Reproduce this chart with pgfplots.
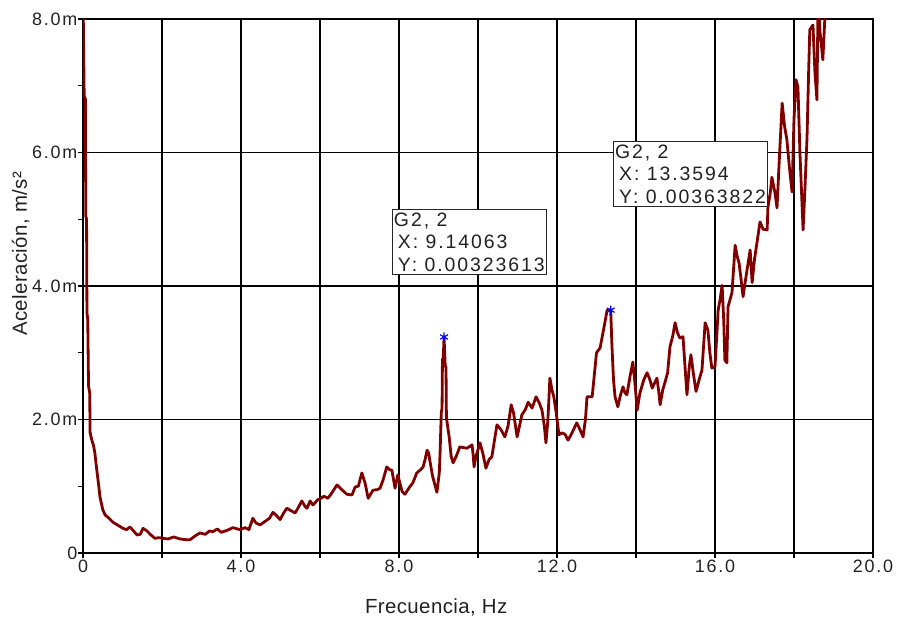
\documentclass[border=0pt]{standalone}
\usepackage{pgfplots}
\pgfplotsset{compat=1.18}
\usepackage{fontspec}
\setmainfont{Liberation Sans}
\newfontfamily\tickff{Liberation Sans}[LetterSpace=10]
\newfontfamily\boxff{Liberation Sans}[LetterSpace=10]
\newfontfamily\labff{Liberation Sans}[LetterSpace=2]
\definecolor{curve}{HTML}{800000}
\definecolor{txt}{HTML}{222222}
\newcommand{\tickfont}{\tickff\fontsize{18}{21}\selectfont}
\newcommand{\labfont}{\labff\fontsize{20.5}{24}\selectfont}
\newcommand{\boxfont}{\boxff\fontsize{19.5}{22.5}\selectfont}
\begin{document}
\begin{tikzpicture}
\begin{axis}[
  scale only axis,
  width=790bp, height=534bp,
  xmin=0, xmax=20, ymin=0, ymax=8,
  xtick={0,4,8,12,16,20},
  xticklabels={0,4.0,8.0,12.0,16.0,20.0},
  minor xtick={2,6,10,14,18},
  ytick={0,2,4,6,8},
  yticklabels={0,2.0m,4.0m,6.0m,8.0m},
  minor ytick={1,3,5,7},
  xmajorgrids, xminorgrids, ymajorgrids,
  grid style={black, line width=1.2bp},
  minor grid style={black, line width=1.2bp},
  axis line style={black, line width=1.2bp},
  tick style={black, line width=1.2bp},
  major tick length=5bp, minor tick length=5bp,
  tick align=outside,
  xtick pos=left, ytick pos=left,
  ticklabel style={font=\tickfont, text=txt},
  yticklabel style={inner sep=0.5bp},
  xticklabel style={inner sep=2bp},
  xlabel={Frecuencia, Hz},
  ylabel={Aceleración, m/s²},
  xlabel style={font=\labfont, text=txt, at={(axis description cs:0.447,-0.101)}, anchor=center},
  ylabel style={font=\labfont, text=txt, at={(axis description cs:-0.079,0.56)}, anchor=center},
  clip=true,
]
\addplot[curve, line width=2.8bp, line join=round] coordinates {
(0.0,8.4)(0.03,6.85)(0.06,6.8)(0.07,5.05)(0.09,5.0)(0.1,3.6)(0.12,3.5)(0.14,2.5)(0.17,2.4)(0.18,1.8)(0.22,1.7)(0.27,1.6)(0.3,1.5)(0.35,1.24)(0.4,1.0)(0.43,0.84)(0.5,0.65)(0.56,0.57)(0.66,0.52)(0.76,0.46)(0.9,0.41)(1.01,0.37)(1.1,0.35)(1.19,0.39)(1.28,0.33)(1.37,0.27)(1.45,0.28)(1.52,0.37)(1.62,0.33)(1.72,0.27)(1.82,0.22)(1.92,0.23)(2.03,0.22)(2.15,0.21)(2.3,0.24)(2.46,0.21)(2.6,0.2)(2.71,0.2)(2.85,0.26)(2.96,0.3)(3.1,0.28)(3.2,0.33)(3.29,0.32)(3.4,0.36)(3.5,0.31)(3.65,0.34)(3.8,0.38)(3.97,0.35)(4.1,0.38)(4.2,0.35)(4.3,0.52)(4.38,0.45)(4.48,0.42)(4.6,0.47)(4.72,0.52)(4.81,0.61)(4.9,0.56)(4.99,0.5)(5.08,0.6)(5.16,0.67)(5.25,0.64)(5.37,0.6)(5.45,0.68)(5.54,0.78)(5.62,0.7)(5.67,0.67)(5.75,0.78)(5.82,0.72)(5.87,0.75)(5.95,0.8)(6.0,0.81)(6.1,0.85)(6.2,0.82)(6.3,0.9)(6.43,1.02)(6.55,0.95)(6.68,0.88)(6.81,0.87)(6.89,0.99)(6.97,1.0)(7.06,1.2)(7.14,1.05)(7.22,0.82)(7.34,0.94)(7.45,0.95)(7.52,0.97)(7.6,1.1)(7.69,1.29)(7.76,1.25)(7.82,1.24)(7.9,0.97)(7.97,1.17)(8.0,1.1)(8.08,0.92)(8.15,0.88)(8.27,0.99)(8.35,1.05)(8.45,1.2)(8.55,1.25)(8.61,1.29)(8.66,1.4)(8.71,1.54)(8.75,1.5)(8.78,1.39)(8.85,1.15)(8.96,0.91)(9.02,1.2)(9.04,1.5)(9.07,2.1)(9.09,2.17)(9.1,2.9)(9.12,2.92)(9.14063,3.23613)(9.17,2.8)(9.19,2.79)(9.2,2.04)(9.23,1.9)(9.27,1.74)(9.32,1.45)(9.37,1.35)(9.45,1.45)(9.54,1.59)(9.62,1.58)(9.72,1.57)(9.8,1.6)(9.85,1.62)(9.88,1.45)(9.9,1.29)(9.95,1.45)(10.05,1.65)(10.12,1.5)(10.2,1.27)(10.28,1.4)(10.35,1.44)(10.42,1.7)(10.48,1.92)(10.58,1.85)(10.68,1.74)(10.76,1.9)(10.84,2.22)(10.9,2.1)(10.95,1.9)(10.99,1.74)(11.05,1.9)(11.11,2.07)(11.2,2.15)(11.27,2.26)(11.37,2.17)(11.47,2.34)(11.55,2.25)(11.62,2.14)(11.68,1.9)(11.72,1.65)(11.77,2.0)(11.82,2.62)(11.87,2.45)(11.92,2.34)(11.98,2.1)(12.05,1.77)(12.12,1.8)(12.2,1.78)(12.28,1.69)(12.38,1.8)(12.5,1.95)(12.58,1.85)(12.66,1.74)(12.72,2.0)(12.76,2.34)(12.89,2.34)(12.95,2.7)(13.0,3.0)(13.09,3.07)(13.18,3.35)(13.27,3.64)(13.3594,3.63822)(13.39,3.12)(13.43,2.6)(13.47,2.34)(13.54,2.19)(13.6,2.35)(13.67,2.49)(13.72,2.4)(13.77,2.37)(13.85,2.65)(13.92,2.86)(13.98,2.5)(14.03,2.14)(14.1,2.4)(14.2,2.6)(14.28,2.7)(14.35,2.6)(14.41,2.47)(14.53,2.62)(14.58,2.4)(14.61,2.22)(14.68,2.45)(14.73,2.55)(14.8,2.7)(14.86,3.09)(14.93,3.25)(14.99,3.45)(15.05,3.3)(15.11,3.22)(15.19,3.24)(15.24,2.8)(15.29,2.37)(15.35,2.8)(15.39,2.97)(15.45,2.7)(15.52,2.42)(15.6,2.6)(15.67,2.74)(15.75,3.45)(15.82,3.34)(15.87,3.0)(15.92,2.77)(16.0,2.79)(16.05,3.31)(16.08,3.64)(16.13,3.8)(16.18,4.01)(16.22,3.5)(16.25,2.89)(16.3,2.85)(16.33,3.69)(16.43,3.9)(16.51,4.61)(16.56,4.45)(16.61,4.34)(16.66,4.1)(16.71,3.84)(16.8,4.2)(16.89,4.54)(16.94,4.05)(17.0,4.4)(17.06,4.64)(17.14,4.96)(17.22,4.85)(17.32,4.84)(17.34,5.18)(17.4,5.4)(17.44,5.63)(17.52,5.39)(17.57,5.17)(17.62,5.8)(17.7,6.74)(17.76,6.4)(17.82,6.19)(17.88,5.8)(17.95,5.41)(18.0,6.5)(18.05,7.09)(18.1,6.98)(18.15,6.0)(18.23,4.84)(18.28,5.5)(18.33,6.23)(18.37,7.2)(18.4,7.84)(18.48,7.91)(18.53,7.2)(18.58,6.79)(18.61,8.3)(18.66,7.8)(18.73,7.39)(18.78,8.0)(18.83,8.3)
};
\addplot[only marks, blue, mark=asterisk, mark size=4.5bp, line width=1.2bp] coordinates {(9.14063,3.23613)(13.3594,3.63822)};
\node[draw=black!85, line width=1.2bp, fill=white, anchor=north west, align=left, inner xsep=1.5bp, inner ysep=3bp, font=\boxfont, text=txt]
  at (axis cs:7.82,5.15) {G2, 2\\\hspace*{4bp}X: 9.14063\\\hspace*{4bp}Y: 0.00323613};
\node[draw=black!85, line width=1.2bp, fill=white, anchor=north west, align=left, inner xsep=1.5bp, inner ysep=3bp, font=\boxfont, text=txt]
  at (axis cs:13.42,6.17) {G2, 2\\\hspace*{4bp}X: 13.3594\\\hspace*{4bp}Y: 0.00363822};
\end{axis}
\path (current axis.south west) ++(-83bp,-76bp) coordinate (bbA);
\path (current axis.north east) ++(26bp,19bp) coordinate (bbB);
\useasboundingbox (bbA) rectangle (bbB);
\end{tikzpicture}
\end{document}
